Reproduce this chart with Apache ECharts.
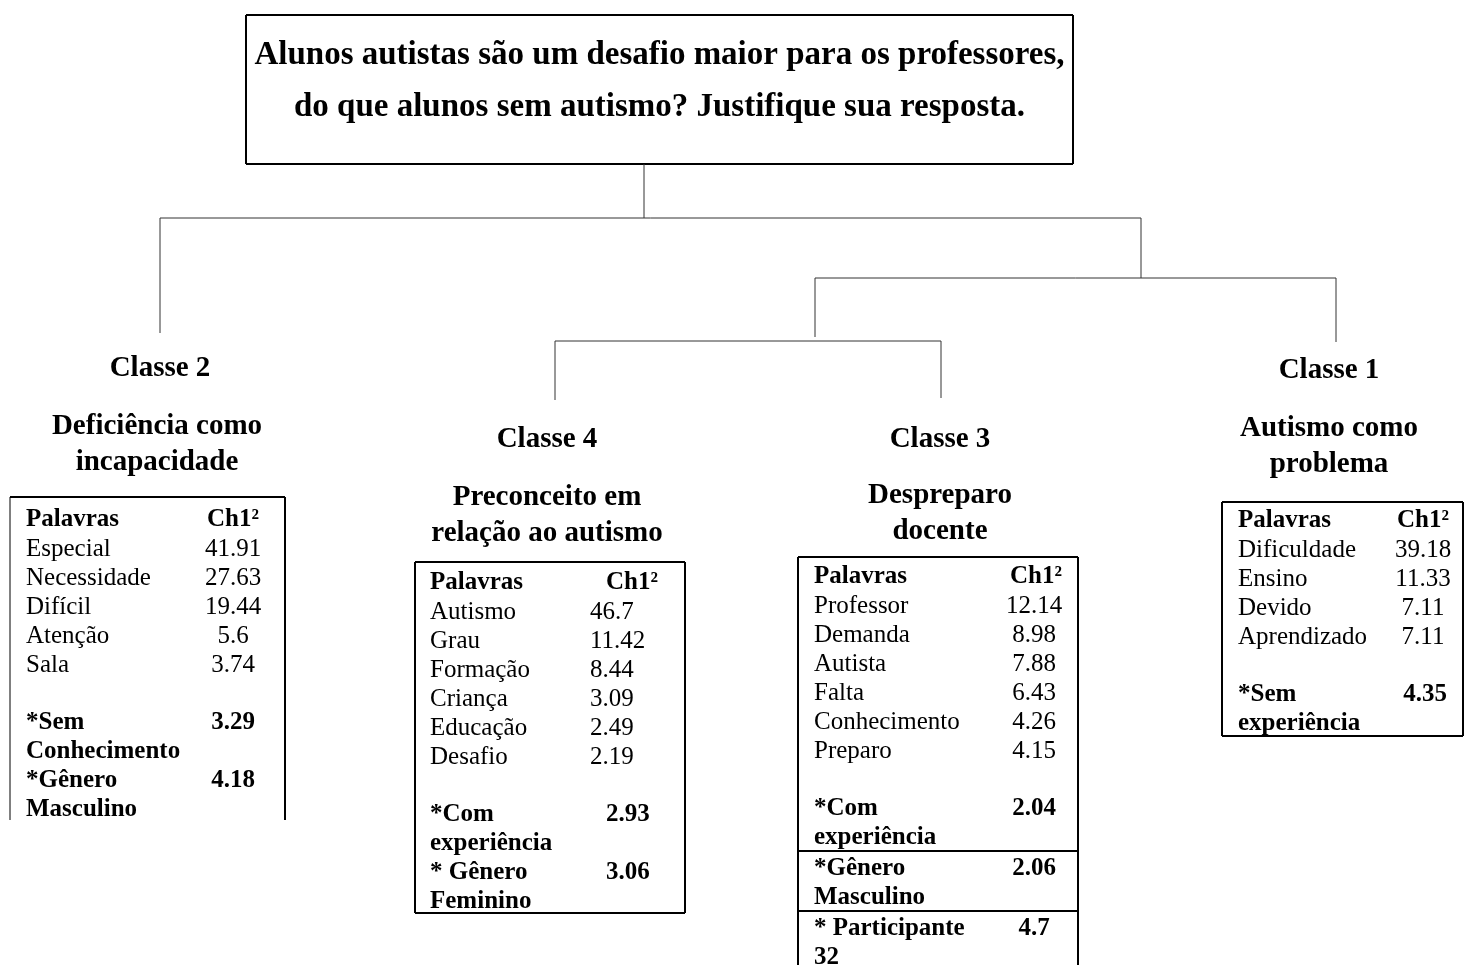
<!DOCTYPE html>
<html>
<head>
<meta charset="utf-8">
<script src="https://cdn.jsdelivr.net/npm/echarts@6/dist/echarts.min.js"></script>
<style>
html,body{margin:0;padding:0;background:#fff;}
#chart{width:1464px;height:965px;}
</style>
</head>
<body>
<div id="chart"></div>
<script>
// ---------- DATA ----------
const questionLines = ['Alunos autistas são um desafio maior para os professores,', 'do que alunos sem autismo? Justifique sua resposta.'];
const classLabels = ['Classe 2', 'Classe 4', 'Classe 3', 'Classe 1'];
const classThemes = [['Deficiência como', 'incapacidade'], ['Preconceito em', 'relação ao autismo'], ['Despreparo', 'docente'], ['Autismo como', 'problema']];
const headerWord = 'Palavras';
const headerValue = 'Ch1²';

const wordsClasse2 = ['Especial', 'Necessidade', 'Difícil', 'Atenção', 'Sala'];
const chi2Classe2 = [41.91, 27.63, 19.44, 5.6, 3.74];
const varsClasse2 = [['*Sem', 'Conhecimento'], ['*Gênero', 'Masculino']];
const varChi2Classe2 = [3.29, 4.18];

const wordsClasse4 = ['Autismo', 'Grau', 'Formação', 'Criança', 'Educação', 'Desafio'];
const chi2Classe4 = [46.7, 11.42, 8.44, 3.09, 2.49, 2.19];
const varsClasse4 = [['*Com', 'experiência'], ['* Gênero', 'Feminino']];
const varChi2Classe4 = [2.93, 3.06];

const wordsClasse3 = ['Professor', 'Demanda', 'Autista', 'Falta', 'Conhecimento', 'Preparo'];
const chi2Classe3 = [12.14, 8.98, 7.88, 6.43, 4.26, 4.15];
const varsClasse3 = [['*Com', 'experiência'], ['*Gênero', 'Masculino'], ['* Participante', '32']];
const varChi2Classe3 = [2.04, 2.06, 4.7];

const wordsClasse1 = ['Dificuldade', 'Ensino', 'Devido', 'Aprendizado'];
const chi2Classe1 = [39.18, 11.33, 7.11, 7.11];
const varsClasse1 = [['*Sem', 'experiência']];
const varChi2Classe1 = [4.35];

// ---------- LAYOUT (positions in the page's coordinate frame) ----------
const FONT = '"Liberation Serif", "Times New Roman", serif';
const W = 1464, H = 965;
const TY = 3; // text baseline adjustment
const texts = [];   // {x,y,text,size,bold,align}
const segs = [];    // [x1,y1,x2,y2,width,color]

function T(x, y, text, size, bold, align) { texts.push({x, y: y + TY, text: String(text), size, bold, align: align || 'left'}); }
function L(x1, y1, x2, y2, w, c) { segs.push([x1, y1, x2, y2, w || 1, c || '#333']); }

// title box
const box = {l: 246, r: 1073, t: 15, b: 164};
L(box.l, box.t, box.r, box.t, 2, '#000');
L(box.l, box.b, box.r, box.b, 2, '#000');
L(box.l, box.t, box.l, box.b, 2, '#000');
L(box.r, box.t, box.r, box.b, 2, '#000');
T((box.l + box.r) / 2, 52, questionLines[0], 33, true, 'center');
T((box.l + box.r) / 2, 104, questionLines[1], 33, true, 'center');

// dendrogram connectors
L(644, 164, 644, 218);
L(160, 218, 1141, 218);
L(160, 218, 160, 333);
L(1141, 218, 1141, 278);
L(815, 278, 1336, 278);
L(815, 278, 815, 337);
L(1336, 278, 1336, 342);
L(555, 341, 941, 341);
L(555, 341, 555, 400);
L(941, 341, 941, 398);

// class blocks
const blocks = [
  {label: {x: 160, y: 366}, theme: {x: 157, y: 424}, words: wordsClasse2, chi2: chi2Classe2, vars: varsClasse2, varChi2: varChi2Classe2,
   tbl: {l: 10, r: 285, t: 497, b: 820, bottomLine: false, leftW: 1}, row0: 517, wordX: 26, valX: 233, valAlign: 'center', hdrX: 233, boldX: 233, seps: false},
  {label: {x: 547, y: 437}, theme: {x: 547, y: 495}, words: wordsClasse4, chi2: chi2Classe4, vars: varsClasse4, varChi2: varChi2Classe4,
   tbl: {l: 415, r: 685, t: 562, b: 913, bottomLine: true, leftW: 2}, row0: 580, wordX: 430, valX: 590, valAlign: 'left', hdrX: 606, boldX: 606, seps: false},
  {label: {x: 940, y: 437}, theme: {x: 940, y: 493}, words: wordsClasse3, chi2: chi2Classe3, vars: varsClasse3, varChi2: varChi2Classe3,
   tbl: {l: 798, r: 1078, t: 557, b: 965, bottomLine: false, leftW: 2}, row0: 574, wordX: 814, valX: 1034, valAlign: 'center', hdrX: 1036, boldX: 1034, seps: true},
  {label: {x: 1329, y: 368}, theme: {x: 1329, y: 426}, words: wordsClasse1, chi2: chi2Classe1, vars: varsClasse1, varChi2: varChi2Classe1,
   tbl: {l: 1222, r: 1463, t: 502, b: 736, bottomLine: true, leftW: 2}, row0: 518, wordX: 1238, valX: 1423, valAlign: 'center', hdrX: 1423, boldX: 1425, seps: false}
];
const STEP = 29, BODY = 25, HEAD = 29;

blocks.forEach((b, i) => {
  T(b.label.x, b.label.y, classLabels[i], HEAD, true, 'center');
  classThemes[i].forEach((ln, k) => T(b.theme.x, b.theme.y + k * 36, ln, HEAD, true, 'center'));
  const tb = b.tbl;
  L(tb.l, tb.t, tb.r, tb.t, 2, '#000');
  L(tb.l, tb.t, tb.l, tb.b, tb.leftW, '#000');
  L(tb.r, tb.t, tb.r, tb.b, 2, '#000');
  if (tb.bottomLine) L(tb.l, tb.b, tb.r, tb.b, 2, '#000');
  let y = b.row0;
  T(b.wordX, y, headerWord, BODY, true, 'left');
  T(b.hdrX, y, headerValue, BODY, true, b.valAlign === 'left' ? 'left' : 'center');
  b.words.forEach((w, k) => {
    y += STEP;
    T(b.wordX, y, w, BODY, false, 'left');
    T(b.valX, y, b.chi2[k], BODY, false, b.valAlign);
  });
  y += STEP; // blank row
  b.vars.forEach((v, k) => {
    if (b.seps && k > 0) {
      const sy = y + 16;
      L(tb.l, sy, tb.r, sy, 2, '#000');
      y += 2;
    }
    y += STEP;
    T(b.wordX, y, v[0], BODY, true, 'left');
    T(b.boldX, y, b.varChi2[k], BODY, true, b.valAlign === 'left' ? 'left' : 'center');
    y += STEP;
    T(b.wordX, y, v[1], BODY, true, 'left');
  });
});

// ---------- CHART ----------
const chart = echarts.init(document.getElementById('chart'), null, {renderer: 'canvas'});
chart.setOption({
  animation: false,
  backgroundColor: '#fff',
  grid: {left: 0, right: 0, top: 0, bottom: 0},
  xAxis: {type: 'value', min: 0, max: W, show: false},
  yAxis: {type: 'value', min: 0, max: H, inverse: true, show: false},
  series: [
    {
      type: 'custom',
      coordinateSystem: 'cartesian2d',
      silent: true,
      data: segs.map(s => [s[0], s[1], s[2], s[3]]),
      encode: {x: [0, 2], y: [1, 3]},
      renderItem: function (params, api) {
        const s = segs[params.dataIndex];
        const p1 = api.coord([api.value(0), api.value(1)]);
        const p2 = api.coord([api.value(2), api.value(3)]);
        return {type: 'line', shape: {x1: p1[0], y1: p1[1], x2: p2[0], y2: p2[1]},
                style: {stroke: s[5], lineWidth: s[4], fill: null}};
      }
    },
    {
      type: 'custom',
      coordinateSystem: 'cartesian2d',
      silent: true,
      data: texts.map(t => [t.x, t.y]),
      renderItem: function (params, api) {
        const t = texts[params.dataIndex];
        const p = api.coord([api.value(0), api.value(1)]);
        return {type: 'text', x: p[0], y: p[1],
                style: {text: t.text, fontFamily: FONT, fontSize: t.size, fontWeight: t.bold ? 'bold' : 'normal',
                        fill: '#000', align: t.align, verticalAlign: 'middle'}};
      }
    }
  ]
});
</script>
</body>
</html>
